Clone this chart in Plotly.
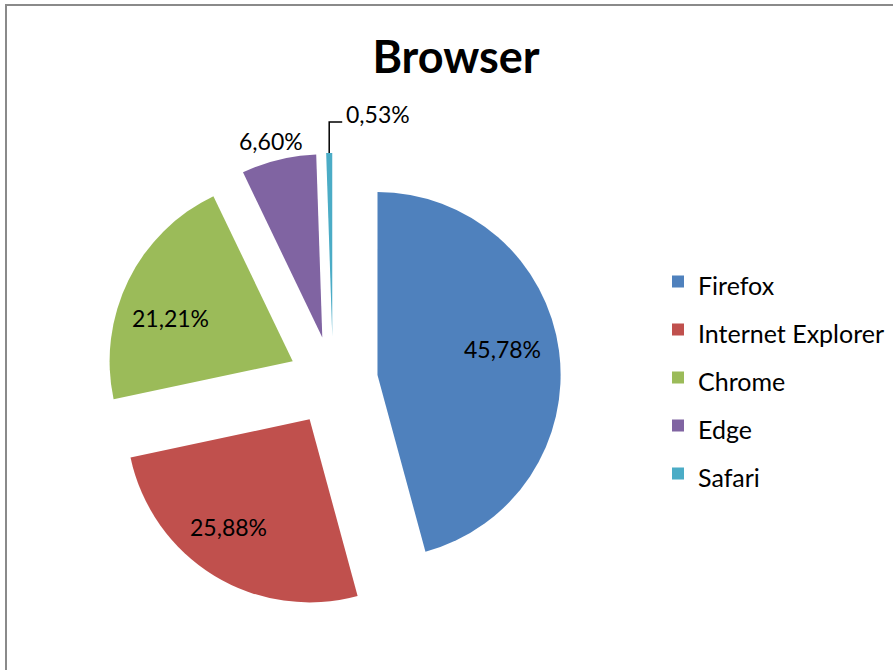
import math
import plotly.graph_objects as go

# ---- data ----
labels = ["Firefox", "Internet Explorer", "Chrome", "Edge", "Safari"]
values = [45.78, 25.88, 21.21, 6.60, 0.53]
text_labels = ["45,78%", "25,88%", "21,21%", "6,60%", "0,53%"]

# ---- styles / positions ----
colors = ["#4F81BD", "#C0504D", "#9BBB59", "#8064A2", "#4BACC6"]
label_mode = ["inside", "inside", "inside", "outside", "leader"]
label_k = [0.697, 0.735, 0.707, 1.111, 1.0]        # radial distance (fraction of R)
label_shift = [-4.0, 5.6, -6.85, -0.8, 0.0]        # angular shift in degrees

W, H = 893, 670
PULL = 0.245
CX, CY = 333, 381          # pie centre in px
BOX = 456                  # pie box size in px
R = BOX / (2 + 2 * PULL)   # plotly's radius for pulled pies
FONT = "Lato"
LBL_SIZE = 23
LEG_SIZE = 25

dom_x = [(CX - BOX / 2) / W, (CX + BOX / 2) / W]
dom_y = [1 - (CY + BOX / 2) / H, 1 - (CY - BOX / 2) / H]


def px2paper(x, y):
    return x / W, 1 - y / H


fig = go.Figure()
fig.add_trace(go.Pie(
    labels=[f'<span style="font-size:{LEG_SIZE}px">{l}</span>' for l in labels],
    values=values,
    sort=False,
    direction="clockwise",
    rotation=0,
    pull=[PULL] * len(values),
    marker=dict(colors=colors, line=dict(width=0)),
    textinfo="none",
    domain=dict(x=dom_x, y=dom_y),
    hoverinfo="skip",
))

annotations = []
shapes = []
total = sum(values)
cum = 0.0
for v, txt, mode, k, sh in zip(values, text_labels, label_mode, label_k, label_shift):
    mid = 2 * math.pi * (cum + v / 2) / total
    cum += v
    dx, dy = math.sin(mid), -math.cos(mid)
    scx, scy = CX + PULL * R * dx, CY + PULL * R * dy  # slice centre after pull
    if mode in ("inside", "outside"):
        a = mid + math.radians(sh)
        x, y = px2paper(scx + k * R * math.sin(a), scy - k * R * math.cos(a))
        annotations.append(dict(x=x, y=y, xref="paper", yref="paper", text=txt,
                                showarrow=False, xanchor="center", yanchor="middle",
                                font=dict(family=FONT, size=LBL_SIZE, color="black")))
    else:
        tx, ty = scx + R * dx, scy + R * dy
        ex, ey = tx, ty - 31
        hx, hy = tx + 13, ey
        p = [px2paper(tx, ty), px2paper(ex, ey), px2paper(hx, hy)]
        path = "M{},{} L{},{} L{},{}".format(p[0][0], p[0][1], p[1][0], p[1][1], p[2][0], p[2][1])
        shapes.append(dict(type="path", xref="paper", yref="paper", path=path,
                           line=dict(color="black", width=1.5)))
        x, y = px2paper(tx + 15, ty - 39)
        annotations.append(dict(x=x, y=y, xref="paper", yref="paper", text=txt,
                                showarrow=False, xanchor="left", yanchor="middle",
                                font=dict(family=FONT, size=LBL_SIZE, color="black")))

# chart area border
bx0, by0 = px2paper(6, 5)
bx1, by1 = px2paper(W + 10, H + 10)
shapes.append(dict(type="rect", xref="paper", yref="paper", x0=bx0, y0=by1, x1=bx1, y1=by0,
                   line=dict(color="#8a8a8a", width=2), fillcolor="rgba(0,0,0,0)", layer="below"))

lx, ly = px2paper(658, 377.5)
tx_, ty_ = px2paper(456, 57)
fig.update_layout(
    width=W, height=H,
    margin=dict(l=0, r=0, t=0, b=0, pad=0, autoexpand=False),
    paper_bgcolor="white",
    plot_bgcolor="white",
    font=dict(family=FONT, color="black"),
    title=dict(text="<b>Browser</b>", x=tx_, xanchor="center", y=ty_, yanchor="middle",
               xref="paper", yref="paper",
               font=dict(family=FONT, size=45, color="black")),
    showlegend=True,
    legend=dict(x=lx, y=ly, xanchor="left", yanchor="middle",
                font=dict(family=FONT, size=(48 - 3) / 1.3, color="black"),
                bgcolor="rgba(0,0,0,0)", borderwidth=0),
    annotations=annotations,
    shapes=shapes,
)

fig.write_html("out.html")
